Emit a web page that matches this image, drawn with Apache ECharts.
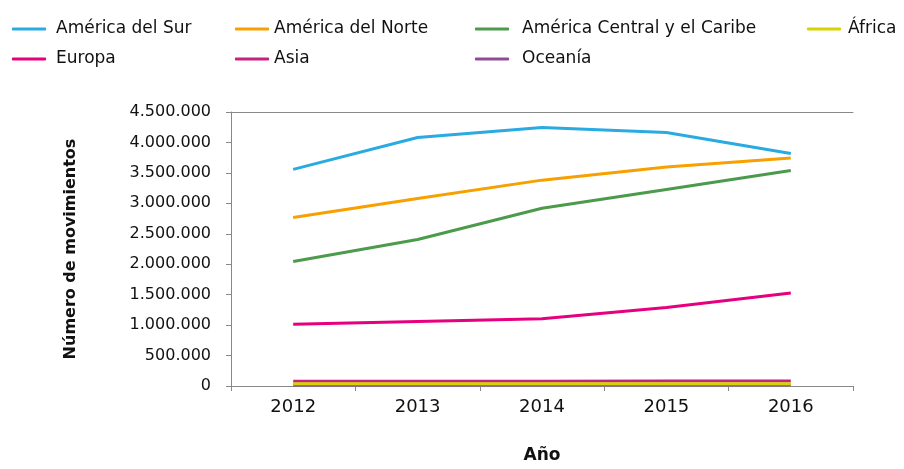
<!DOCTYPE html>
<html>
<head>
<meta charset="utf-8">
<script src="https://cdn.jsdelivr.net/npm/echarts@6/dist/echarts.min.js"></script>
<style>html,body{margin:0;padding:0;background:#fff}#c{width:904px;height:469px}</style>
</head>
<body>
<div id="c"></div>
<script>
var years = ['2012', '2013', '2014', '2015', '2016'];
var americaSur = [3557000, 4080000, 4244000, 4165000, 3819000];
var americaNorte = [2769000, 3078000, 3381000, 3595000, 3744000];
var americaCentral = [2045000, 2407000, 2918000, 3228000, 3541000];
var africa = [35000, 35000, 36000, 37000, 38000];
var europa = [1016000, 1059000, 1103000, 1288000, 1528000];
var asia = [78000, 79000, 80000, 81000, 82000];
var oceania = [18000, 18000, 19000, 19000, 20000];
var yTicks = [0, 500000, 1000000, 1500000, 2000000, 2500000, 3000000, 3500000, 4000000, 4500000];

var FONT = 'DejaVu Sans';
var names = ['América del Sur', 'América del Norte', 'América Central y el Caribe', 'África', 'Europa', 'Asia', 'Oceanía'];
var colors = ['#29abe2', '#f7a000', '#4c9a4c', '#d6d300', '#e6007e', '#c4237f', '#8f4b97'];
var datas = [americaSur, americaNorte, americaCentral, africa, europa, asia, oceania];
var zs = [2, 2, 2, 4, 2, 3, 3];

function fmt(v) {
  return String(v).replace(/\B(?=(\d{3})+(?!\d))/g, '.');
}

function mkLegend(left, data, pad) {
  return {
    left: left, top: 19, orient: 'vertical', itemGap: 10, padding: 0,
    itemWidth: 34, itemHeight: 3, icon: 'roundRect',
    data: data,
    textStyle: {fontFamily: FONT, fontSize: 17, color: '#111', lineHeight: 20, padding: [0, 0, 0, pad]}
  };
}

var chart = echarts.init(document.getElementById('c'), null, {renderer: 'canvas'});
chart.setOption({
  animation: false,
  color: colors,
  legend: [
    mkLegend(12, ['América del Sur', 'Europa'], 5),
    mkLegend(235, ['América del Norte', 'Asia'], 0),
    mkLegend(475, ['América Central y el Caribe', 'Oceanía'], 8),
    mkLegend(807, ['África'], 2)
  ],
  grid: {left: 231, right: 51, top: 112, bottom: 76, containLabel: false},
  xAxis: [{
    type: 'category', data: years, boundaryGap: true,
    axisLine: {show: true, lineStyle: {color: '#888', width: 1}},
    axisTick: {show: true, length: 5, alignWithLabel: false, lineStyle: {color: '#888'}},
    axisLabel: {fontFamily: FONT, fontSize: 18, color: '#111', margin: 12},
    name: 'Año', nameLocation: 'middle', nameGap: 61,
    nameTextStyle: {fontFamily: FONT, fontSize: 17, fontWeight: 'bold', color: '#111'}
  }, {
    type: 'category', data: years, position: 'top',
    axisLine: {show: true, lineStyle: {color: '#888', width: 1}},
    axisTick: {show: false}, axisLabel: {show: false}
  }],
  yAxis: {
    type: 'value', min: 0, max: 4500000, interval: 500000,
    axisLine: {show: true, lineStyle: {color: '#888', width: 1}},
    axisTick: {show: true, length: 5, lineStyle: {color: '#888'}},
    splitLine: {show: false},
    axisLabel: {fontFamily: FONT, fontSize: 16, color: '#111', margin: 20, padding: [0, 0, 8, 0],
      formatter: function (v) { return fmt(v); }},
    name: 'Número de movimientos', nameLocation: 'middle', nameGap: 152, nameRotate: 90,
    nameTextStyle: {fontFamily: FONT, fontSize: 16, fontWeight: 'bold', color: '#111'}
  },
  series: names.map(function (n, i) {
    return {
      name: n, type: 'line', data: datas[i], symbol: 'none', z: zs[i],
      lineStyle: {width: 3, color: colors[i]}, itemStyle: {color: colors[i]}
    };
  })
});
</script>
</body>
</html>
